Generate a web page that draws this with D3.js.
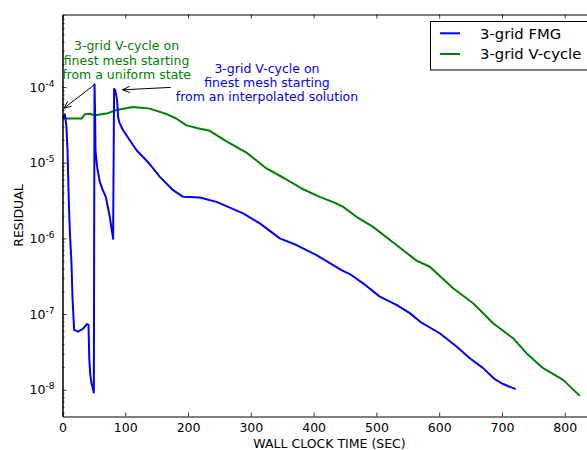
<!DOCTYPE html>
<html><head><meta charset="utf-8">
<script src="https://cdn.jsdelivr.net/npm/d3@7"></script>
<style>
body{margin:0;background:#fff;}
svg{display:block;font-family:"DejaVu Sans",sans-serif;}
</style></head><body>
<svg id="chart" width="587" height="450"></svg>
<script>
// ---- data ----
const fmgTime = [0, 3.7, 6.1, 8.0, 10.0, 11.6, 14.3, 15.9, 18.5, 24.8, 32.3, 39.2, 41.4, 42.7, 44.3, 46.2, 49.9, 51.0, 51.8, 52.6, 55.1, 59.4, 64.2, 69.0, 75.3, 80.6, 82.2, 84.1, 87.0, 88.6, 90.5, 96.5, 107.2, 117.9, 128.4, 139.1, 155.0, 176.2, 192.1, 218.7, 245.3, 287.7, 314.3, 346.1, 372.7, 404.6, 444.4, 457.6, 478.8, 505.4, 532.0, 553.2, 571.8, 600.9, 627.6, 648.8, 670.0, 688.6, 701.8, 721.9];
const fmgResidual = [3.86e-5, 4.36e-5, 3.12e-5, 1.46e-5, 3.2e-6, 1.29e-6, 4.72e-7, 1.68e-7, 6.17e-8, 5.86e-8, 6.35e-8, 7.4e-8, 7.2e-8, 2.48e-8, 1.57e-8, 1.22e-8, 9.2e-9, 1.09e-4, 4.93e-5, 1.46e-5, 8.8e-6, 5.58e-6, 4.34e-6, 3.54e-6, 1.93e-6, 9.9e-7, 9.5e-5, 9.05e-5, 6.68e-5, 4.02e-5, 3.42e-5, 2.69e-5, 1.98e-5, 1.46e-5, 1.19e-5, 9.55e-6, 6.5e-6, 4.34e-6, 3.54e-6, 3.47e-6, 3.04e-6, 2.14e-6, 1.58e-6, 1.0e-6, 8.17e-7, 6.02e-7, 3.82e-7, 3.38e-7, 2.55e-7, 1.70e-7, 1.32e-7, 1.03e-7, 7.7e-8, 5.58e-8, 3.72e-8, 2.61e-8, 1.93e-8, 1.38e-8, 1.19e-8, 1.02e-8];
const vcycTime = [0, 30.3, 35.5, 43.5, 51.4, 70.1, 86.0, 112.5, 139.1, 165.7, 180.5, 197.5, 215.5, 234.6, 261.2, 293.1, 324.9, 354.1, 380.7, 409.8, 435.3, 447.0, 468.3, 494.7, 532.0, 563.9, 585.1, 622.2, 654.0, 685.9, 717.7, 739.1, 765.5, 797.4, 824.0];
const vcycResidual = [3.83e-5, 3.83e-5, 4.36e-5, 4.43e-5, 4.23e-5, 4.46e-5, 4.97e-5, 5.45e-5, 5.19e-5, 4.4e-5, 3.87e-5, 3.12e-5, 2.85e-5, 2.64e-5, 1.92e-5, 1.36e-5, 8.4e-6, 6.19e-6, 4.57e-6, 3.54e-6, 2.92e-6, 2.61e-6, 1.93e-6, 1.42e-6, 8.17e-7, 5.09e-7, 4.22e-7, 2.19e-7, 1.39e-7, 7.57e-8, 4.8e-8, 3.04e-8, 1.93e-8, 1.35e-8, 8.3e-9];
const seriesNames = ["3-grid FMG", "3-grid V-cycle"];
const xTicks = [0, 100, 200, 300, 400, 500, 600, 700, 800];
const xTickLabels = ["0", "100", "200", "300", "400", "500", "600", "700", "800"];
const yTicks = [1e-8, 1e-7, 1e-6, 1e-5, 1e-4];
const yTickExponents = ["-8", "-7", "-6", "-5", "-4"];
const xTitle = "WALL CLOCK TIME (SEC)";
const yTitle = "RESIDUAL";
const noteUniform = ["3-grid V-cycle on", "finest mesh starting", "from a uniform state"];
const noteInterp = ["3-grid V-cycle on", "finest mesh starting", "from an interpolated solution"];
// annotation anchor points (data coords): text position, arrow tail, arrow head
const noteUniformText = [102, 3.05e-4];
const noteUniformArrow = [[51.5, 1.085e-4], [2.1, 5.24e-5]];
const noteInterpText = [325.7, 1.53e-4];
const noteInterpArrow = [[172.5, 9.9e-5], [95.6, 9.2e-5]];

// ---- layout ----
const plotLeft = 62.5, plotTop = 14.5, plotBottom = 416.5;
const xMax = 850;
const pxPerUnit = 0.6278;
const plotRight = plotLeft + xMax * pxPerUnit;
const colors = ["#0000ff", "#008000"];

const svg = d3.select("#chart");
const x = d3.scaleLinear().domain([0, xMax]).range([plotLeft, plotRight]);
const y = d3.scaleLog().domain([4.43e-9, 9.1e-4]).range([plotBottom, plotTop]);

svg.append("defs").append("clipPath").attr("id", "clip")
  .append("rect").attr("x", plotLeft).attr("y", plotTop).attr("width", plotRight - plotLeft).attr("height", plotBottom - plotTop);

// lines
const line = d3.line().x(d => x(d[0])).y(d => y(d[1]));
const series = [
  d3.zip(fmgTime, fmgResidual),
  d3.zip(vcycTime, vcycResidual)
];
const g = svg.append("g").attr("clip-path", "url(#clip)");
[1, 0].forEach(i => {
  g.append("path").datum(series[i])
    .attr("d", line)
    .attr("fill", "none")
    .attr("stroke", colors[i])
    .attr("stroke-width", 2)
    .attr("stroke-linejoin", "round");
});

// minor y ticks
const minor = [];
for (let e = -9; e <= -4; e++) for (let m = 2; m <= 9; m++) {
  const v = m * Math.pow(10, e);
  if (v >= y.domain()[0] && v <= y.domain()[1]) minor.push(v);
}

function styleAxis(sel) {
  sel.select(".domain").attr("stroke", "#000").attr("stroke-width", 1);
  sel.selectAll(".tick line").attr("stroke", "#000").attr("stroke-width", 0.8);
  sel.selectAll("text").attr("fill", "#000");
}

svg.append("g").attr("transform", `translate(0,${plotBottom})`)
  .call(d3.axisBottom(x).tickValues(xTicks).tickFormat((d, i) => xTickLabels[i])
    .tickSizeInner(-4).tickSizeOuter(0).tickPadding(7))
  .call(styleAxis)
  .call(s => s.selectAll("text").attr("font-size", 12.5).attr("font-family", "DejaVu Sans"));

svg.append("g").attr("transform", `translate(0,${plotTop})`)
  .call(d3.axisTop(x).tickValues(xTicks).tickFormat(() => "")
    .tickSizeInner(-4).tickSizeOuter(0))
  .call(styleAxis);

svg.append("g").attr("transform", `translate(${plotRight},0)`)
  .call(d3.axisRight(y).tickValues(yTicks).tickFormat(() => "").tickSizeInner(-4).tickSizeOuter(0))
  .call(styleAxis);

svg.append("g").attr("transform", `translate(${plotLeft},0)`)
  .call(d3.axisLeft(y).tickValues(minor).tickFormat(() => "").tickSizeInner(-2).tickSizeOuter(0))
  .call(styleAxis);

const yAxisG = svg.append("g").attr("transform", `translate(${plotLeft},0)`)
  .call(d3.axisLeft(y).tickValues(yTicks).tickFormat(() => "").tickSizeInner(-4).tickSizeOuter(0).tickPadding(8))
  .call(styleAxis);
yAxisG.selectAll(".tick text").each(function(d, i) {
  const t = d3.select(this).attr("font-size", 12.5).attr("font-family", "DejaVu Sans");
  t.append("tspan").text("10");
  t.append("tspan").attr("dy", "-5").attr("font-size", 9).text(yTickExponents[i]);
});

svg.append("text").attr("x", plotLeft + 267).attr("y", 448)
  .attr("text-anchor", "middle").attr("font-size", 12.5).text(xTitle);
svg.append("text").attr("transform", `translate(22.8,${(plotTop + plotBottom) / 2}) rotate(-90)`)
  .attr("text-anchor", "middle").attr("font-size", 12.5).text(yTitle);

function arrow(tail, head) {
  const x0 = x(tail[0]), y0 = y(tail[1]);
  const x1 = x(head[0]), y1 = y(head[1]);
  svg.append("line").attr("x1", x0).attr("y1", y0).attr("x2", x1).attr("y2", y1)
    .attr("stroke", "#000").attr("stroke-width", 1);
  const ang = Math.atan2(y0 - y1, x0 - x1);
  const L = 8, spread = 0.4;
  const p = [
    [x1 + L * Math.cos(ang + spread), y1 + L * Math.sin(ang + spread)],
    [x1, y1],
    [x1 + L * Math.cos(ang - spread), y1 + L * Math.sin(ang - spread)]
  ];
  svg.append("path").attr("d", d3.line()(p)).attr("fill", "none").attr("stroke", "#000").attr("stroke-width", 1);
}
function note(lines, pos, color) {
  const t = svg.append("text").attr("text-anchor", "middle").attr("font-size", 12.5).attr("fill", color);
  lines.forEach((s, i) => {
    t.append("tspan").attr("x", x(pos[0])).attr("y", y(pos[1]) + i * 14.2).text(s);
  });
}
arrow(noteUniformArrow[0], noteUniformArrow[1]);
arrow(noteInterpArrow[0], noteInterpArrow[1]);
note(noteUniform, noteUniformText, colors[1]);
note(noteInterp, noteInterpText, colors[0]);

const lg = svg.append("g");
lg.append("rect").attr("x", 430.5).attr("y", 21.5).attr("width", 170).attr("height", 48.5)
  .attr("fill", "#fff").attr("stroke", "#000").attr("stroke-width", 1);
seriesNames.forEach((name, i) => {
  const yy = 33.3 + i * 20.7;
  lg.append("line").attr("x1", 440).attr("x2", 460).attr("y1", yy).attr("y2", yy)
    .attr("stroke", colors[i]).attr("stroke-width", 2);
  lg.append("text").attr("x", 480).attr("y", yy + 5.2).attr("font-size", 14.8).text(name);
});
</script>
</body></html>
